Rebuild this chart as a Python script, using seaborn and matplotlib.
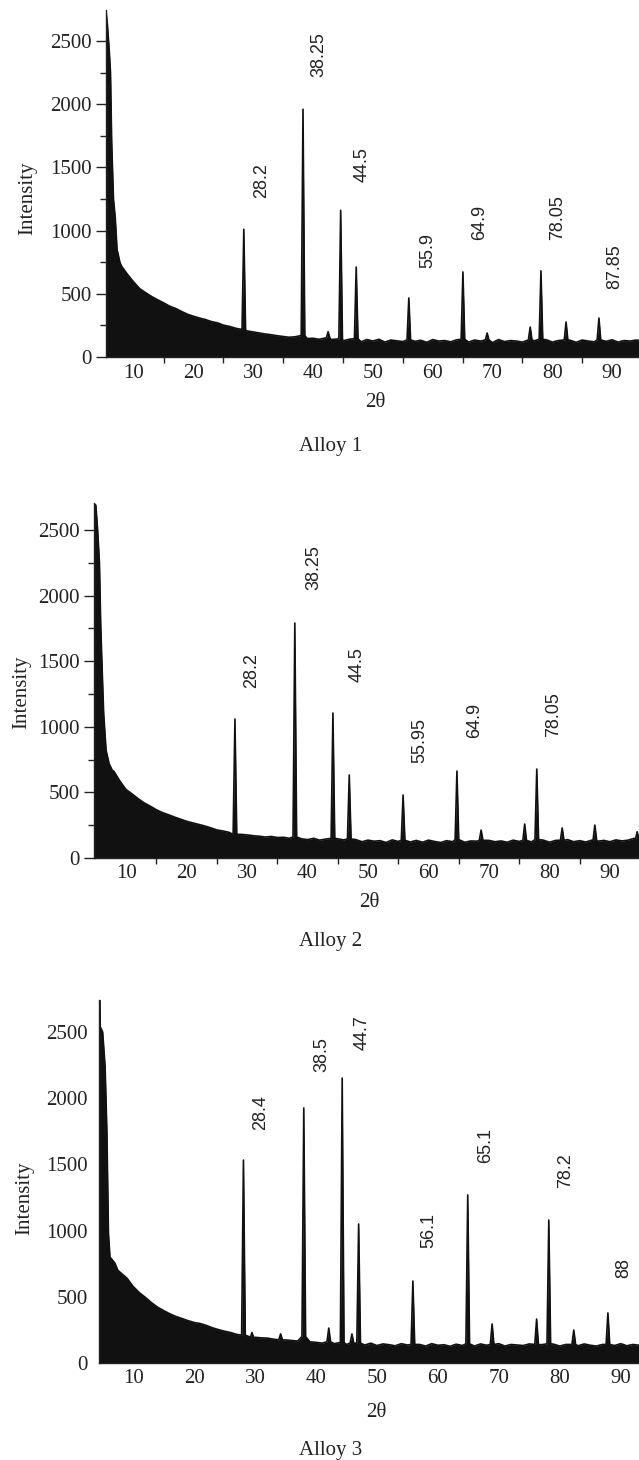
import matplotlib
matplotlib.use("Agg")
import matplotlib.pyplot as plt
import seaborn as sns
from matplotlib.ticker import FixedLocator, MultipleLocator

# ---------------------------------------------------------------
# Values (2theta in degrees, intensity)
# ---------------------------------------------------------------
GRID_2THETA = list(range(8, 96))

# steep low-angle rise for each alloy
ALLOY1_HEAD_X = [5.35, 5.6, 5.9, 6.1, 6.3, 6.6, 6.9, 7.2, 7.7]
ALLOY1_HEAD_Y = [2740, 2620, 2420, 2250, 1700, 1250, 1100, 850, 745]
ALLOY2_HEAD_X = [4.7, 5.0, 5.3, 5.6, 5.8, 6.0, 6.3, 6.7, 7.2, 7.7]
ALLOY2_HEAD_Y = [2700, 2690, 2500, 2250, 1800, 1500, 1100, 820, 720, 670]
ALLOY3_HEAD_X = [4.4, 4.55, 4.6, 5.0, 5.4, 5.7, 5.95, 6.2, 7.0, 7.5]
ALLOY3_HEAD_Y = [2740, 2740, 2540, 2500, 2240, 1740, 980, 800, 755, 700]

# background from 8 to 95 degrees, one value per degree
ALLOY1_BG = [715, 650, 592, 540, 508, 478, 452, 428, 402, 384,
             360, 338, 322, 308, 296, 280, 270, 252, 242, 228,
             218, 206, 198, 190, 182, 176, 168, 162, 156, 160,
             150, 146, 148, 140, 150, 138, 142, 128, 140, 132,
             120, 138, 126, 140, 118, 134, 128, 122, 136, 124,
             132, 116, 138, 126, 130, 120, 136, 124, 118, 134,
             126, 132, 114, 138, 122, 130, 126, 118, 134, 128,
             122, 136, 118, 130, 124, 132, 116, 134, 126, 120,
             132, 124, 136, 118, 130, 126, 134, 128]
ALLOY2_BG = [660, 585, 522, 488, 452, 420, 395, 368, 346, 330,
             312, 296, 280, 268, 256, 244, 230, 214, 206, 196,
             186, 180, 176, 170, 166, 160, 164, 156, 158, 150,
             148, 146, 140, 150, 136, 144, 130, 146, 138, 128,
             140, 124, 136, 128, 132, 118, 138, 126, 130, 122,
             134, 120, 136, 126, 118, 132, 124, 138, 120, 130,
             128, 118, 134, 124, 130, 120, 136, 126, 132, 122,
             130, 136, 120, 134, 126, 140, 124, 132, 122, 136,
             128, 134, 124, 138, 130, 136, 150, 165]
ALLOY3_BG = [680, 640, 578, 532, 496, 456, 422, 396, 372, 352,
             336, 320, 306, 298, 284, 266, 252, 240, 230, 216,
             208, 200, 194, 190, 188, 180, 176, 174, 170, 166,
             164, 160, 156, 150, 158, 146, 152, 140, 148, 144,
             136, 150, 132, 144, 138, 130, 146, 136, 134, 140,
             128, 146, 134, 138, 126, 142, 132, 140, 128, 144,
             134, 130, 146, 128, 140, 136, 132, 144, 130, 138,
             132, 142, 128, 140, 136, 130, 144, 134, 128, 140,
             136, 132, 146, 130, 140, 134, 138, 142]

# peaks: (position, apex intensity, foot intensity)
ALLOY1_PEAKS = [(28.4, 1010, 210), (38.3, 1960, 170), (42.5, 200, 150),
                (44.6, 1160, 145), (47.2, 712, 145), (56.0, 467, 135),
                (65.05, 673, 140), (69.1, 190, 135), (76.3, 237, 135),
                (78.1, 682, 140), (82.3, 277, 135), (87.8, 308, 135)]
ALLOY2_PEAKS = [(28.0, 1059, 180), (37.9, 1791, 160), (44.2, 1105, 150),
                (46.9, 633, 145), (55.8, 480, 135), (64.7, 663, 140),
                (68.7, 213, 135), (75.9, 259, 135), (77.9, 678, 140),
                (82.1, 229, 135), (87.5, 251, 135), (94.5, 200, 140)]
ALLOY3_PEAKS = [(28.1, 1533, 210), (29.5, 230, 190), (34.2, 220, 175),
                (38.0, 1926, 200), (42.1, 264, 160), (44.3, 2152, 155),
                (45.9, 219, 150), (47.0, 1050, 150), (55.9, 619, 140),
                (64.9, 1269, 145), (68.9, 295, 140), (76.2, 332, 140),
                (78.2, 1080, 145), (82.3, 249, 140), (87.9, 378, 140)]

ALLOY1_LABELS = ["28.2", "38.25", "44.5", "55.9", "64.9", "78.05", "87.85"]
ALLOY2_LABELS = ["28.2", "38.25", "44.5", "55.95", "64.9", "78.05"]
ALLOY3_LABELS = ["28.4", "38.5", "44.7", "56.1", "65.1", "78.2", "88"]

CAPTIONS = ["Alloy 1", "Alloy 2", "Alloy 3"]

# ---------------------------------------------------------------
# Layout (pixels of a 639 x 1460 canvas)
# ---------------------------------------------------------------
W, H = 639, 1460
PANELS = [
    dict(head=(ALLOY1_HEAD_X, ALLOY1_HEAD_Y), bg=ALLOY1_BG, peaks=ALLOY1_PEAKS,
         labels=ALLOY1_LABELS,
         label_xy=[(31.3, 1258), (41.0, 2215), (48.2, 1384), (59.2, 704),
                   (67.9, 926), (80.9, 926), (90.5, 538)],
         box=(106, 10, 639, 357), xlim=(5.35, 94.5), ytop=2745, ticks=True,
         ylab=(-0.146, 0.458), xlab=(0.505, -0.130), xpad=5, caption_y=446),
    dict(head=(ALLOY2_HEAD_X, ALLOY2_HEAD_Y), bg=ALLOY2_BG, peaks=ALLOY2_PEAKS,
         labels=ALLOY2_LABELS,
         label_xy=[(30.8, 1296), (41.1, 2043), (48.2, 1341), (58.6, 724),
                   (67.7, 915), (80.7, 922)],
         box=(94, 503, 639, 858), xlim=(4.7, 94.8), ytop=2706, ticks=True,
         ylab=(-0.132, 0.468), xlab=(0.505, -0.124), xpad=4.5, caption_y=942),
    dict(head=(ALLOY3_HEAD_X, ALLOY3_HEAD_Y), bg=ALLOY3_BG, peaks=ALLOY3_PEAKS,
         labels=ALLOY3_LABELS,
         label_xy=[(31.0, 1760), (41.0, 2198), (47.5, 2364), (58.5, 869),
                   (67.9, 1511), (81.0, 1322), (90.5, 642)],
         box=(99, 1000, 639, 1363), xlim=(4.4, 93.0), ytop=2742, ticks=False,
         ylab=(-0.137, 0.455), xlab=(0.513, -0.135), xpad=4.5, caption_y=1451),
]
PEAK_HALF_WIDTH = 0.3


def build_trace(head, bg, peaks):
    pts = list(zip(head[0], head[1]))
    for x, y in zip(GRID_2THETA, bg):
        if any(abs(x - p[0]) < PEAK_HALF_WIDTH for p in peaks):
            continue
        pts.append((x, y))
    for pos, apex, foot in peaks:
        pts += [(pos - PEAK_HALF_WIDTH, foot), (pos, apex), (pos + PEAK_HALF_WIDTH, foot)]
    pts.sort()
    xs = [p[0] for p in pts]
    ys = [p[1] for p in pts]
    return xs, ys


def draw_panel(fig, p):
    left, top, right, bottom = p["box"]
    ax = fig.add_axes([left / W, 1 - bottom / H, (right - left) / W, (bottom - top) / H])

    xs, ys = build_trace(p["head"], p["bg"], p["peaks"])
    ax.fill_between(xs, 0, ys, color="#111111", linewidth=0)
    sns.lineplot(x=xs, y=ys, ax=ax, color="#111111", linewidth=1.2,
                 estimator=None, sort=False)

    ax.set_xlim(*p["xlim"])
    ax.set_ylim(0, p["ytop"])
    sns.despine(ax=ax)
    for side in ("left", "bottom"):
        ax.spines[side].set_color("#222222")
        ax.spines[side].set_linewidth(1.0)

    ax.xaxis.set_major_locator(FixedLocator([10, 20, 30, 40, 50, 60, 70, 80, 90]))
    ax.yaxis.set_major_locator(MultipleLocator(500))
    if p["ticks"]:
        ax.xaxis.set_minor_locator(FixedLocator([15, 25, 35, 45, 55, 65, 75, 85, 95]))
        ax.yaxis.set_minor_locator(MultipleLocator(250))
        ax.tick_params(axis="x", which="major", length=0, pad=p["xpad"])
        ax.tick_params(axis="x", which="minor", length=4, width=1, color="#222222")
        ax.tick_params(axis="y", which="major", length=7, width=1, pad=3, color="#222222")
        ax.tick_params(axis="y", which="minor", length=4, width=1, color="#222222")
    else:
        ax.tick_params(axis="x", which="both", length=0, pad=p["xpad"])
        ax.tick_params(axis="y", which="both", length=0, pad=8)
    ax.tick_params(axis="both", which="major", labelsize=15, labelcolor="#222222")

    ax.set_ylabel("Intensity", fontsize=15, color="#222222")
    ax.yaxis.set_label_coords(*p["ylab"])
    ax.yaxis.label.set_va("center")
    ax.set_xlabel("2θ", fontsize=15, color="#222222")
    ax.xaxis.set_label_coords(*p["xlab"])
    ax.xaxis.label.set_va("center")

    for text, (x, y) in zip(p["labels"], p["label_xy"]):
        ax.text(x, y, text, rotation=90, ha="center", va="bottom", fontsize=13,
                family=["Liberation Sans", "DejaVu Sans"], color="#222222")
    return ax


def main():
    sns.set_style("ticks")
    plt.rcParams["font.family"] = ["Liberation Serif", "DejaVu Serif"]

    fig = plt.figure(figsize=(W / 100, H / 100), dpi=100)
    for p, caption in zip(PANELS, CAPTIONS):
        draw_panel(fig, p)
        fig.text(331 / W, 1 - p["caption_y"] / H, caption, ha="center", va="center",
                 fontsize=15, color="#222222")

    fig.savefig("out.png", dpi=100)
    plt.close(fig)


if __name__ == "__main__":
    main()
